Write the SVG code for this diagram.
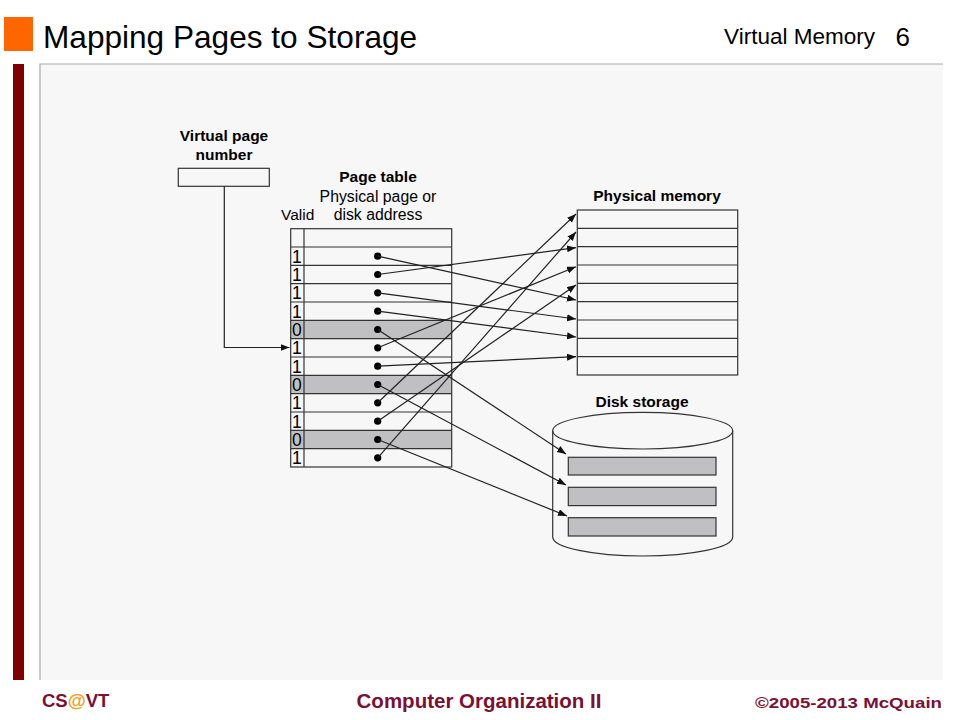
<svg xmlns="http://www.w3.org/2000/svg" width="960" height="720" viewBox="0 0 960 720">
<style>
.t{font-family:"Liberation Sans",Arial,sans-serif;fill:#000}
.b{font-weight:bold}
.ln{stroke:#222;stroke-width:1.2;fill:none}
.cell{stroke:#333;stroke-width:1.2;fill:none}
.gray{fill:#c0c0c2}
.dot{fill:#000}
.ft{font-family:"Liberation Sans",Arial,sans-serif;font-weight:bold;fill:#7b1032}
</style>
<defs>
<marker id="ah" markerUnits="userSpaceOnUse" markerWidth="10" markerHeight="8" refX="9" refY="3.5" orient="auto">
<path d="M0,0 L9,3.5 L0,7 z" fill="#111"/>
</marker>
</defs>
<rect width="960" height="720" fill="#fff"/>
<g id="slide">
<rect x="4" y="17" width="29" height="34" fill="#ff6600"/>
<text class="t" x="43" y="48" font-size="31.6">Mapping Pages to Storage</text>
<text class="t" x="875" y="44" font-size="22.5" text-anchor="end">Virtual Memory</text>
<text class="t" x="895.5" y="45.5" font-size="26">6</text>
<rect x="13" y="64" width="11" height="616" fill="#800000"/>
<rect x="40" y="64" width="903" height="616" fill="#f7f7f7"/>
<path d="M40,680 V64 H943" stroke="#aaa" stroke-width="1.2" fill="none"/>
<text class="ft" x="42" y="707" font-size="18.5">CS<tspan fill="#f0a020">@</tspan>VT</text>
<text class="ft" x="479" y="708" font-size="20.5" text-anchor="middle">Computer Organization II</text>
<text class="ft" x="755" y="708" font-size="14.5" textLength="187" lengthAdjust="spacingAndGlyphs">©2005-2013 McQuain</text>
</g>
<g id="vpn">
<text class="t b" x="224" y="141" font-size="15.5" text-anchor="middle">Virtual page</text>
<text class="t b" x="224" y="160" font-size="15.5" text-anchor="middle">number</text>
<rect class="cell" x="178.3" y="168.3" width="91" height="18"/>
</g>
<g id="page-table">
<text class="t b" x="378" y="182" font-size="15.5" text-anchor="middle">Page table</text>
<text class="t" x="378" y="201.5" font-size="15.8" text-anchor="middle">Physical page or</text>
<text class="t" x="281" y="220" font-size="15.5">Valid</text>
<text class="t" x="378" y="220" font-size="15.8" text-anchor="middle">disk address</text>
<rect class="gray" x="290.7" y="320.3" width="161" height="18.4"/>
<rect class="gray" x="290.7" y="375.3" width="161" height="18.4"/>
<rect class="gray" x="290.7" y="430.3" width="161" height="18.4"/>
<rect class="cell" x="290.7" y="228.7" width="161" height="238.3"/>
<path class="cell" d="M304,228.7 V467 M290.7,247 H451.7 M290.7,265.3 H451.7 M290.7,283.7 H451.7 M290.7,302 H451.7 M290.7,320.3 H451.7 M290.7,338.7 H451.7 M290.7,357 H451.7 M290.7,375.3 H451.7 M290.7,393.7 H451.7 M290.7,412 H451.7 M290.7,430.3 H451.7 M290.7,448.7 H451.7"/>
<g class="t" font-size="17.5">
<text x="292" y="262.5">1</text>
<text x="292" y="280.8">1</text>
<text x="292" y="299.1">1</text>
<text x="292" y="317.5">1</text>
<text x="292" y="335.8">0</text>
<text x="292" y="354.1">1</text>
<text x="292" y="372.5">1</text>
<text x="292" y="390.8">0</text>
<text x="292" y="409.1">1</text>
<text x="292" y="427.5">1</text>
<text x="292" y="445.8">0</text>
<text x="292" y="464.1">1</text>
</g>
<g class="dot">
<circle cx="377.7" cy="256.2" r="3.6"/>
<circle cx="377.7" cy="274.5" r="3.6"/>
<circle cx="377.7" cy="292.8" r="3.6"/>
<circle cx="377.7" cy="311.2" r="3.6"/>
<circle cx="377.7" cy="329.5" r="3.6"/>
<circle cx="377.7" cy="347.8" r="3.6"/>
<circle cx="377.7" cy="366.2" r="3.6"/>
<circle cx="377.7" cy="384.5" r="3.6"/>
<circle cx="377.7" cy="402.8" r="3.6"/>
<circle cx="377.7" cy="421.2" r="3.6"/>
<circle cx="377.7" cy="439.5" r="3.6"/>
<circle cx="377.7" cy="457.8" r="3.6"/>
</g>
</g>
<g id="physical-memory">
<text class="t b" x="657" y="201" font-size="15.5" text-anchor="middle">Physical memory</text>
<rect class="cell" x="577.3" y="210" width="160.4" height="165"/>
<path class="cell" d="M577.3,228.3 H737.7 M577.3,246.7 H737.7 M577.3,265 H737.7 M577.3,283.3 H737.7 M577.3,301.7 H737.7 M577.3,320 H737.7 M577.3,338.3 H737.7 M577.3,356.7 H737.7"/>
</g>
<g id="disk-storage">
<text class="t b" x="642" y="407" font-size="15.5" text-anchor="middle">Disk storage</text>
<path class="cell" d="M552.7,430.7 V537 A90,19 0 0 0 732.7,537 V430.7"/>
<ellipse class="cell" cx="642.7" cy="430.7" rx="90" ry="18.3"/>
<rect class="gray" x="568.3" y="457.3" width="147.7" height="17.7" stroke="#333" stroke-width="1.2"/>
<rect class="gray" x="568.3" y="487.3" width="147.7" height="18.3" stroke="#333" stroke-width="1.2"/>
<rect class="gray" x="568.3" y="517.7" width="147.7" height="18.3" stroke="#333" stroke-width="1.2"/>
</g>
<g id="connectors" class="ln" marker-end="url(#ah)">
<path d="M224.3,186.3 V347.5 H289.5"/>
<path d="M377.7,256.2 L576,300"/>
<path d="M377.7,274.5 L576,247.7"/>
<path d="M377.7,292.8 L576,319"/>
<path d="M377.7,311.2 L576,337"/>
<path d="M377.7,347.8 L576,266.7"/>
<path d="M377.7,366.2 L576,356.7"/>
<path d="M377.7,402.8 L576,214"/>
<path d="M377.7,421.2 L576,285"/>
<path d="M377.7,457.8 L576,232"/>
<path d="M377.7,329.5 L566,454"/>
<path d="M377.7,384.5 L566,485"/>
<path d="M377.7,439.5 L567,516"/>
</g>
</svg>
